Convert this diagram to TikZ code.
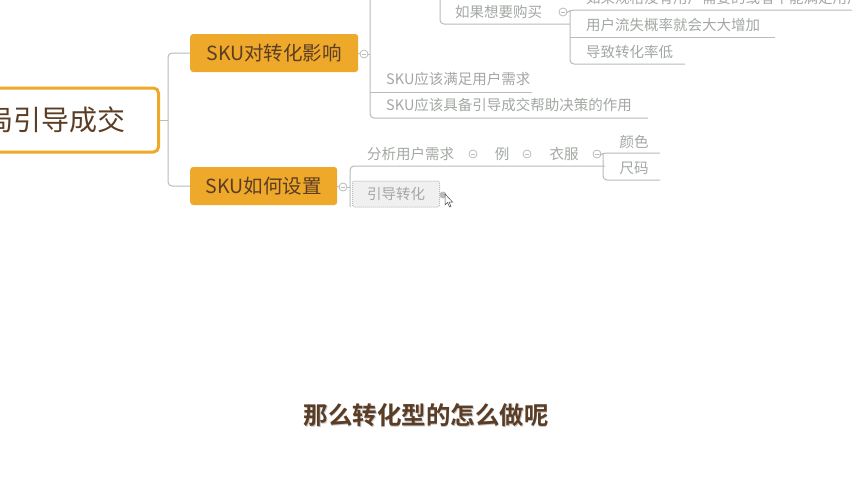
\documentclass[tikz,border=0pt]{standalone}
\usepackage{fontspec}
\setmainfont{Noto Sans CJK SC}[BoldFont={Noto Sans CJK SC Bold}]
\definecolor{orng}{HTML}{EEA82A}
\definecolor{brwn}{HTML}{5B3D25}
\definecolor{gline}{HTML}{B8BDB8}
\definecolor{gtext}{HTML}{A3A8A3}
\tikzset{
  mainbox/.style={draw=orng, line width=3pt, fill=white, rounded corners=5pt, inner sep=0},
  topic/.style={fill=orng, rounded corners=3pt, text=brwn, font=\fontsize{19.5}{21}\selectfont, inner sep=0, minimum height=38pt},
  leaf/.style={text=gtext, font=\fontsize{14.5}{16}\selectfont, inner sep=0, anchor=west},
  ln/.style={draw=gline, line width=1pt, rounded corners=4pt},
  fold/.style={circle, draw=gline, line width=0.8pt, minimum size=8pt, inner sep=0, fill=white,
    path picture={\draw[gline, line width=0.8pt] ([xshift=2pt]path picture bounding box.west) -- ([xshift=-2pt]path picture bounding box.east);}},
}
\begin{document}
\begin{tikzpicture}[x=1pt,y=-1pt]
\useasboundingbox (0,0) rectangle (852,480);
\clip (0,0) rectangle (852,480);
\fill[white] (0,0) rectangle (852,480);

% root
\node[mainbox, minimum width=200pt, minimum height=64pt, anchor=east] (root) at (160,120) {};
\node[anchor=east, inner sep=0, text=brwn, font=\fontsize{28}{30}\selectfont] (roottxt) at (126,120) {布局引导成交};

% main topics
\node[topic, minimum width=168pt, anchor=west] (t1) at (190,53) {SKU对转化影响};
\node[topic, minimum width=147pt, anchor=west] (t2) at (190,186) {SKU如何设置};

\coordinate (j) at (168,120);
\draw[ln] (root.east) -- (j);
\draw[ln] (j) |- (t1.west);
\draw[ln] (j) |- (t2.west);

% branch 1
\node[fold] (f1) at (364,54) {};
\draw[ln] (t1.east) -- (f1.west);
\coordinate (v1) at (370,54);
\draw[ln] (f1.east) -- (v1);
\draw[ln] (370,-10) -- (370,118) -- (648,118);
\draw[ln] (370,92) -- (532,92);
\node[leaf] (s1) at (386,79) {SKU应该满足用户需求};
\node[leaf] (s2) at (386,105) {SKU应该具备引导成交帮助决策的作用};

% 如果想要购买
\draw[ln] (440,-10) -- (440,24) -- (570,24);
\node[leaf] (buy) at (455,12) {如果想要购买};
\node[fold] (f3) at (563,12) {};
\draw[ln] (570,10) -- (570,64) -- (685,64);
\draw[ln] (f3.east) -- (570,10) -- (852,10);
\draw[ln] (570,37) -- (775,37);
\node[leaf] (c0) at (586,-2) {如果规格没有用户需要的或者不能满足用户};
\node[leaf] (c1) at (586,25) {用户流失概率就会大大增加};
\node[leaf] (c2) at (586,52) {导致转化率低};

% branch 2
\node[fold] (f2) at (343,187) {};
\draw[ln] (t2.east) -- (f2.west);
\draw[ln] (f2.east) -- (350,187);
\draw[ln] (350,207) -- (350,166) -- (605,166);
\node[leaf] (a1) at (367,154) {分析用户需求};
\node[fold] (f4) at (473,154) {};
\node[leaf, anchor=center] (a2) at (502,154) {例};
\node[fold] (f5) at (527,154) {};
\node[leaf, anchor=center] (a3) at (564,154) {衣服};
\node[fold] (f6) at (597,154) {};
\draw[ln] (f6.east) -- (603,153) -- (660,153);
\draw[ln] (603,153) -- (603,180) -- (660,180);
\node[leaf, anchor=center] (b1) at (634,142) {颜色};
\node[leaf, anchor=center] (b2) at (634,168) {尺码};

% selected node 引导转化
\node[draw=gline, densely dotted, line width=1pt, fill=gray!12, rounded corners=2pt, minimum width=87pt, minimum height=26pt, inner sep=0, text=gtext, font=\fontsize{14.5}{16}\selectfont] (sel) at (396,194) {引导转化};
\node[circle, fill=gline, minimum size=7pt, inner sep=0] (f7) at (443,195) {};
\draw[fill=white, draw=black!70, line width=0.5pt] (445,194) -- (445,205) -- (447.5,202.5) -- (449.5,207) -- (451,206.3) -- (449,202) -- (452.5,202) -- cycle;

% subtitle
\node[text=gray!45, font=\fontsize{24.5}{26}\selectfont\bfseries] at (426.8,416.3) {那么转化型的怎么做呢};
\node[text=brwn, font=\fontsize{24.5}{26}\selectfont\bfseries] (sub) at (426,415) {那么转化型的怎么做呢};
\end{tikzpicture}
\end{document}
